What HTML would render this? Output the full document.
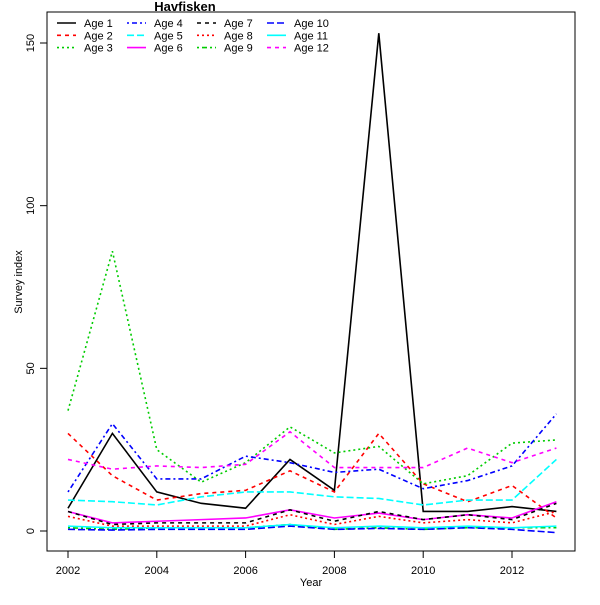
<!DOCTYPE html>
<html><head><meta charset="utf-8"><style>body{margin:0;background:#fff}svg text{font-family:"Liberation Sans",sans-serif}</style></head>
<body>
<svg id="c" width="600" height="600" xmlns="http://www.w3.org/2000/svg"></svg>
<script>
const years=[2002,2003,2004,2005,2006,2007,2008,2009,2010,2011,2012,2013];
const seriesNames=["Age 1","Age 2","Age 3","Age 4","Age 5","Age 6","Age 7","Age 8","Age 9","Age 10","Age 11","Age 12"];
const age1=[7,30,12,8.5,7,22,12.5,153,6,6,7.5,6];
const age2=[30,17,9.5,11.5,12.5,18.5,12,30,14.5,9,14,4];
const age3=[37,86,25,15,21,32,24,26,14.5,17,27,28];
const age4=[12,33,16,16,23,21,18,19,13,15.5,20,36];
const age5=[9.5,9,8,10.5,12,12,10.5,10,8,9.5,9.5,22];
const age6=[6,2.5,3,3.5,4,6.5,4,5.5,3.5,5,4,9];
const age7=[6,2,2.5,2.5,2.5,6.5,3,6,3.5,5,3.5,8.5];
const age8=[4.5,1.5,1.5,1.5,1.5,5,2,4.5,2.5,3.5,2.5,6];
const age9=[1,0.5,1,1,1,2,0.5,1,0.5,1,1,1];
const age10=[0.5,0.3,0.5,0.5,0.5,1.5,0.5,0.8,0.5,1,0.5,-0.5];
const age11=[1.5,1,1,1,1,2,1,1.5,1,1.5,1,1.5];
const age12=[22,19,20,19.5,20.5,30.5,19.5,19.5,19.5,25.5,21,25.5];
const xTicks=[2002,2004,2006,2008,2010,2012];
const yTicks=[0,50,100,150];
const series=[age1,age2,age3,age4,age5,age6,age7,age8,age9,age10,age11,age12];
const cols=["#000","#f00","#0c0","#00f","#0ff","#f0f"];
const ltys=["","4 4","2 3","2 3 5 3","7 3"];
const NS="http://www.w3.org/2000/svg";
const svg=document.getElementById("c");
const X=v=>68+(v-2002)*44.4;
const Y=v=>531-v*3.2533;
function mk(t,a,p){const e=document.createElementNS(NS,t);for(const k in a)e.setAttribute(k,a[k]);(p||svg).appendChild(e);return e;}
const box=mk("rect",{x:47,y:12,width:528,height:539,fill:"none",stroke:"#000"});


series.forEach((s,i)=>{
  const p=mk("polyline",{points:s.map((v,j)=>X(years[j])+","+Y(v)).join(" "),fill:"none",stroke:cols[i%6],"stroke-width":1.6,"stroke-dasharray":ltys[i%5]});
  
  
});
xTicks.forEach(t=>{
  mk("line",{x1:X(t),x2:X(t),y1:551,y2:558,stroke:"#000"});
  const tx=mk("text",{x:X(t),y:574,"font-size":11,"text-anchor":"middle"});tx.textContent=t;
  
  
});
yTicks.forEach(t=>{
  mk("line",{x1:40,x2:47,y1:Y(t),y2:Y(t),stroke:"#000"});
  const tx=mk("text",{x:34,y:Y(t),"font-size":11,"text-anchor":"middle",transform:`rotate(-90 34 ${Y(t)})`});tx.textContent=t;
  
  
});
const xl=mk("text",{x:311,y:586,"font-size":11,"text-anchor":"middle"});xl.textContent="Year";


const yl=mk("text",{x:22,y:282,"font-size":11,"text-anchor":"middle",transform:"rotate(-90 22 282)"});yl.textContent="Survey index";


const ti=mk("text",{x:185,y:11,"font-size":13,"font-weight":"bold","text-anchor":"middle"});ti.textContent="Havfisken";


seriesNames.forEach((n,i)=>{
  const c=Math.floor(i/3),r=i%3;const lx=57+c*70,ly=23+r*12.3;
  const g=mk("g",{});
  
  
  mk("line",{x1:lx,x2:lx+19,y1:ly,y2:ly,stroke:cols[i%6],"stroke-width":1.6,"stroke-dasharray":ltys[i%5]},g);
  const t=mk("text",{x:lx+27,y:ly+4,"font-size":11},g);t.textContent=n;
});
</script>
</body></html>
